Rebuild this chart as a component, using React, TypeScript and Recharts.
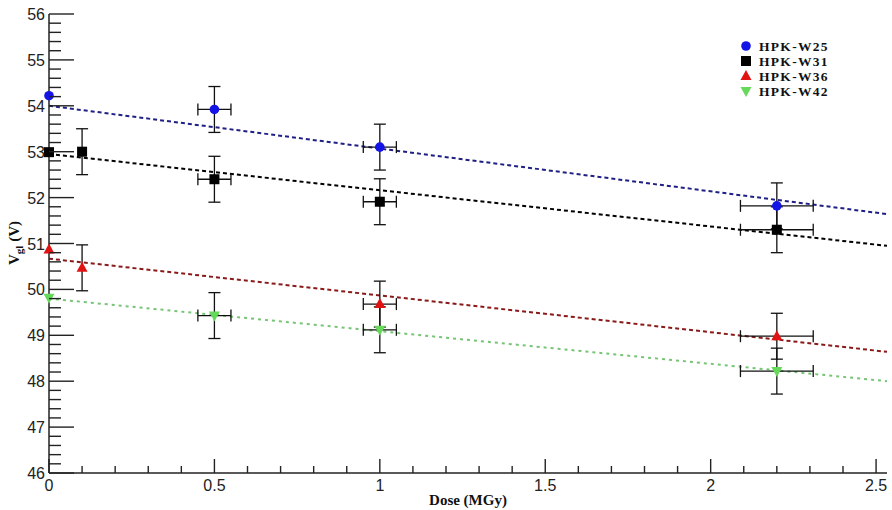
import React from 'react';
import { ComposedChart, Scatter, Line, XAxis, YAxis, ErrorBar } from 'recharts';

// measured points (dose in MGy, Vgl in V)
const doseW25 = [0, 0.5, 1, 2.2];
const vglW25 = [54.22, 53.92, 53.1, 51.82];
const errYW25 = [0, 0.5, 0.5, 0.5];
const errXW25 = [0, 0.05, 0.05, 0.11];

const doseW31 = [0, 0.1, 0.5, 1, 2.2];
const vglW31 = [52.99, 53.0, 52.4, 51.91, 51.3];
const errYW31 = [0, 0.5, 0.5, 0.5, 0.5];
const errXW31 = [0, 0, 0.05, 0.05, 0.11];

const doseW36 = [0, 0.1, 1, 2.2];
const vglW36 = [50.87, 50.47, 49.68, 48.98];
const errYW36 = [0, 0.5, 0.5, 0.5];
const errXW36 = [0, 0, 0.05, 0.11];

const doseW42 = [0, 0.5, 1, 2.2];
const vglW42 = [49.82, 49.43, 49.12, 48.22];
const errYW42 = [0, 0.5, 0.5, 0.5];
const errXW42 = [0, 0.05, 0.05, 0.11];

// linear fit lines, read at the two ends of the frame
const fitDose = [0, 2.533];
const fitW25 = [54.0, 51.64];
const fitW31 = [52.95, 50.95];
const fitW36 = [50.67, 48.64];
const fitW42 = [49.8, 48.0];

const xTicks = Array.from({ length: 26 }, (_, i) => +(i * 0.1).toFixed(1));
const yTicks = Array.from({ length: 51 }, (_, i) => +(46 + i * 0.2).toFixed(1));

const points = (xs: number[], ys: number[], ey: number[], ex: number[]) =>
  xs.map((x, i) => ({ x, y: ys[i], ey: ey[i], ex: ex[i] }));
const fit = (ys: number[]) => fitDose.map((x, i) => ({ x, y: ys[i] }));

const isMajorX = (v: number) => Math.abs(v * 2 - Math.round(v * 2)) < 1e-6;
const isMajorY = (v: number) => Math.abs(v - Math.round(v)) < 1e-6;

const AXIS = '#222';
const TICK_FONT = '"Liberation Sans", Arial, sans-serif';
const SERIF = '"Liberation Serif", "Times New Roman", serif';

const BottomTick = (p: any) => {
  const v = p.payload.value;
  const major = isMajorX(v);
  return (
    <g>
      <line x1={p.x} y1={p.y} x2={p.x} y2={p.y - (major ? 14 : 7)} stroke={AXIS} strokeWidth={1.4} />
      {major && (
        <text x={p.x} y={p.y + 18} textAnchor="middle" fontFamily={TICK_FONT} fontSize={16} fill="#222">
          {String(v)}
        </text>
      )}
    </g>
  );
};

const TopTick = (p: any) => {
  const major = isMajorX(p.payload.value);
  return <line x1={p.x} y1={p.y} x2={p.x} y2={p.y + (major ? 13 : 7)} stroke={AXIS} strokeWidth={1.4} />;
};

const LeftTick = (p: any) => {
  const v = p.payload.value;
  const major = isMajorY(v);
  return (
    <g>
      <line x1={p.x} y1={p.y} x2={p.x + (major ? 25 : 12)} y2={p.y} stroke={AXIS} strokeWidth={1.4} />
      {major && (
        <text x={p.x - 4} y={p.y + 6} textAnchor="end" fontFamily={TICK_FONT} fontSize={16} fill="#222">
          {String(Math.round(v))}
        </text>
      )}
    </g>
  );
};

const RightTick = (p: any) => {
  const major = isMajorY(p.payload.value);
  return <line x1={p.x} y1={p.y} x2={p.x - (major ? 23 : 11)} y2={p.y} stroke={AXIS} strokeWidth={1.4} />;
};

const Circle = (p: any) => <circle cx={p.cx} cy={p.cy} r={4.8} fill="#1414e6" />;
const Square = (p: any) => <rect x={p.cx - 5} y={p.cy - 5} width={10} height={10} fill="#000" />;
const TriUp = (p: any) => (
  <polygon points={`${p.cx},${p.cy - 6} ${p.cx - 5.5},${p.cy + 4} ${p.cx + 5.5},${p.cy + 4}`} fill="#e01212" />
);
const TriDown = (p: any) => (
  <polygon points={`${p.cx},${p.cy + 6} ${p.cx - 5.5},${p.cy - 4} ${p.cx + 5.5},${p.cy - 4}`} fill="#66d95a" />
);

const legendItems = [
  { name: 'HPK-W25', shape: Circle },
  { name: 'HPK-W31', shape: Square },
  { name: 'HPK-W36', shape: TriUp },
  { name: 'HPK-W42', shape: TriDown },
];

const errProps = { stroke: '#111', strokeWidth: 1.3, width: 6 };

export default function App() {
  return (
    <div style={{ position: 'absolute', left: 0, top: 0, width: 892, height: 510, background: '#fff' }}>
      <ComposedChart width={892} height={510} margin={{ top: 14, right: 5, bottom: 0, left: 0 }}>
        <XAxis
          xAxisId="b"
          dataKey="x"
          type="number"
          domain={[0, 2.533]}
          ticks={xTicks}
          interval={0}
          height={37}
          tickSize={0}
          tickMargin={0}
          tickLine={false}
          axisLine={{ stroke: AXIS, strokeWidth: 1.5 }}
          tick={<BottomTick />}
        />
        <XAxis
          xAxisId="t"
          orientation="top"
          dataKey="x"
          type="number"
          domain={[0, 2.533]}
          ticks={xTicks}
          interval={0}
          height={0}
          tickSize={0}
          tickMargin={0}
          tickLine={false}
          axisLine={{ stroke: AXIS, strokeWidth: 1.5 }}
          tick={<TopTick />}
        />
        <YAxis
          yAxisId="l"
          type="number"
          domain={[46, 56]}
          ticks={yTicks}
          interval={0}
          width={49}
          tickSize={0}
          tickMargin={0}
          tickLine={false}
          axisLine={{ stroke: AXIS, strokeWidth: 1.5 }}
          tick={<LeftTick />}
        />
        <YAxis
          yAxisId="r"
          orientation="right"
          type="number"
          domain={[46, 56]}
          ticks={yTicks}
          interval={0}
          width={0}
          tickSize={0}
          tickMargin={0}
          tickLine={false}
          axisLine={{ stroke: AXIS, strokeWidth: 1.5 }}
          tick={<RightTick />}
        />

        <Line xAxisId="b" yAxisId="l" data={fit(fitW25)} dataKey="y" stroke="#1f1f85" strokeWidth={2} strokeDasharray="4 3" dot={false} isAnimationActive={false} />
        <Line xAxisId="b" yAxisId="l" data={fit(fitW31)} dataKey="y" stroke="#000" strokeWidth={2} strokeDasharray="4 3" dot={false} isAnimationActive={false} />
        <Line xAxisId="b" yAxisId="l" data={fit(fitW36)} dataKey="y" stroke="#8a1a1a" strokeWidth={2} strokeDasharray="4 3" dot={false} isAnimationActive={false} />
        <Line xAxisId="b" yAxisId="l" data={fit(fitW42)} dataKey="y" stroke="#76c476" strokeWidth={2} strokeDasharray="3 4" dot={false} isAnimationActive={false} />

        <Scatter xAxisId="b" yAxisId="l" data={points(doseW25, vglW25, errYW25, errXW25)} dataKey="y" shape={<Circle />} isAnimationActive={false}>
          <ErrorBar dataKey="ey" direction="y" {...errProps} />
          <ErrorBar dataKey="ex" direction="x" {...errProps} />
        </Scatter>
        <Scatter xAxisId="b" yAxisId="l" data={points(doseW31, vglW31, errYW31, errXW31)} dataKey="y" shape={<Square />} isAnimationActive={false}>
          <ErrorBar dataKey="ey" direction="y" {...errProps} />
          <ErrorBar dataKey="ex" direction="x" {...errProps} />
        </Scatter>
        <Scatter xAxisId="b" yAxisId="l" data={points(doseW36, vglW36, errYW36, errXW36)} dataKey="y" shape={<TriUp />} isAnimationActive={false}>
          <ErrorBar dataKey="ey" direction="y" {...errProps} />
          <ErrorBar dataKey="ex" direction="x" {...errProps} />
        </Scatter>
        <Scatter xAxisId="b" yAxisId="l" data={points(doseW42, vglW42, errYW42, errXW42)} dataKey="y" shape={<TriDown />} isAnimationActive={false}>
          <ErrorBar dataKey="ey" direction="y" {...errProps} />
          <ErrorBar dataKey="ex" direction="x" {...errProps} />
        </Scatter>

        <text x={468} y={505} textAnchor="middle" fontFamily={SERIF} fontWeight="bold" fontSize={15} fill="#111">
          Dose (MGy)
        </text>
        <text transform="translate(19,243) rotate(-90)" textAnchor="middle" fontFamily={SERIF} fontWeight="bold" fontSize={15} fill="#111">
          V<tspan fontSize={11} dy={4}>gl</tspan>
          <tspan dy={-4}> (V)</tspan>
        </text>

        <g>
          {legendItems.map((it, i) => {
            const Shape = it.shape;
            const cy = 46 + i * 15;
            return (
              <g key={it.name}>
                <Shape cx={746} cy={cy} />
                <text x={759} y={cy + 5} fontFamily={SERIF} fontWeight="bold" fontSize={13.5} letterSpacing={1.3} fill="#111">
                  {it.name}
                </text>
              </g>
            );
          })}
        </g>
      </ComposedChart>
    </div>
  );
}
